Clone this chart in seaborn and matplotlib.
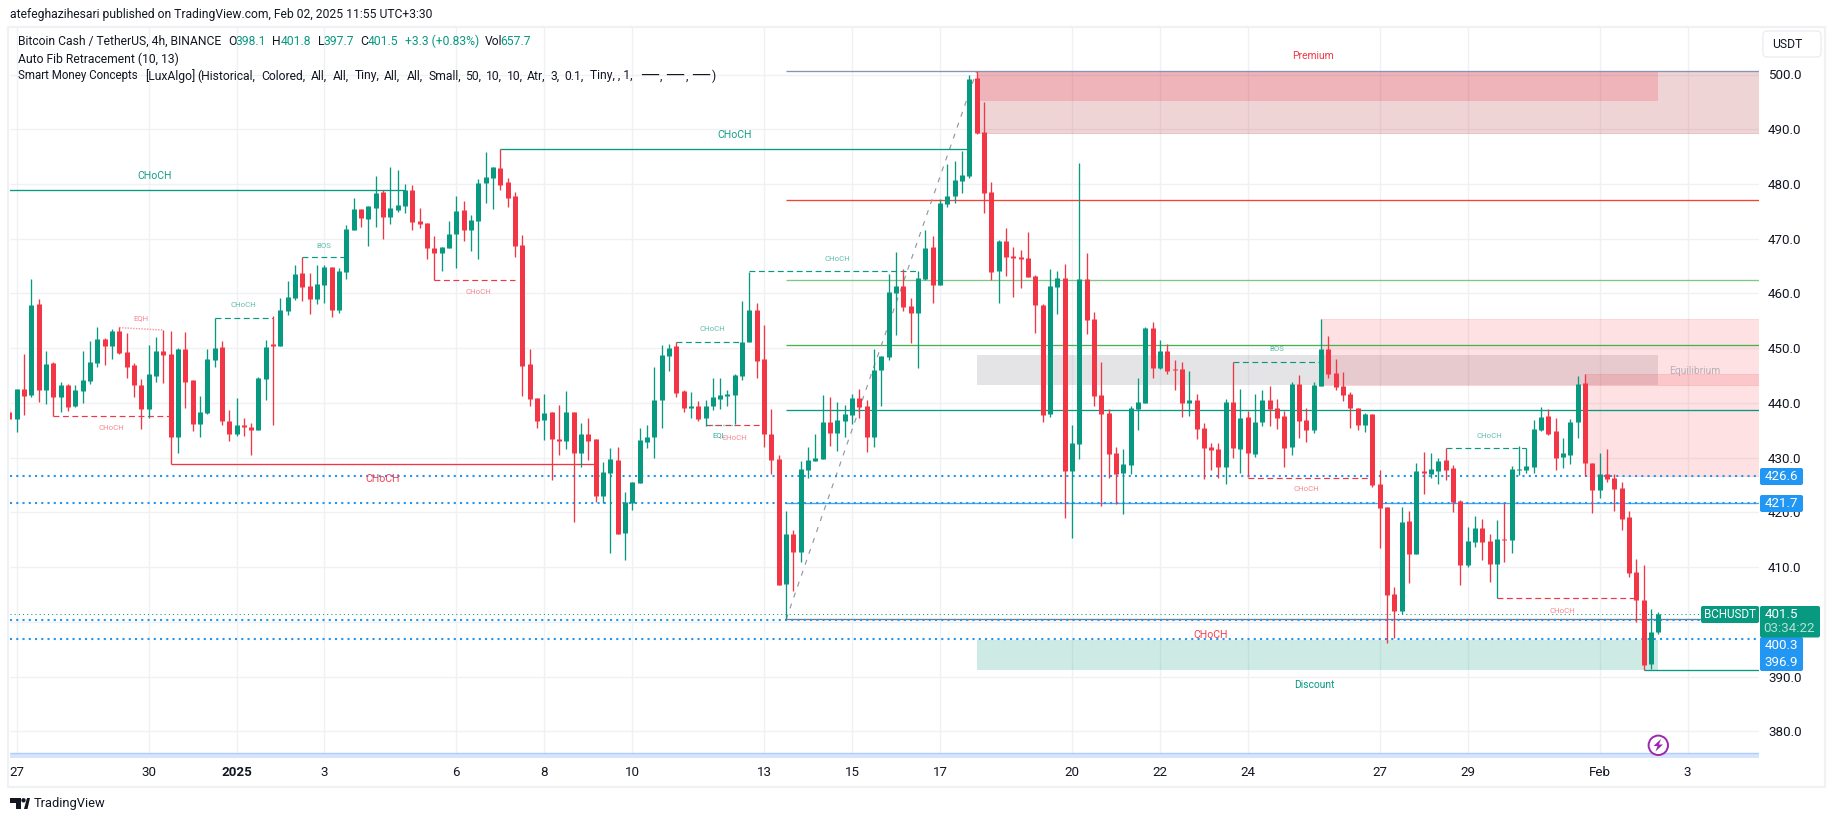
import matplotlib
matplotlib.use('Agg')
import numpy as np
import pandas as pd
import seaborn as sns
import matplotlib.pyplot as plt
from matplotlib.patches import Rectangle, FancyBboxPatch, Polygon, Circle
from matplotlib.transforms import IdentityTransform

# 4h candles, first one is the sliver cut off at the left edge
opens = [438.4,
    437.1, 442.5, 441.4, 458.1, 442.4, 447.3, 441.1, 443.3, 439.5, 442.2,
    444.0, 447.3, 451.7, 450.4, 453.2, 449.3, 446.9, 443.3, 438.9, 444.9,
    449.5, 448.9, 433.8, 449.9, 444.2, 436.2, 438.2, 447.9, 450.2, 436.7,
    434.3, 436.0, 435.6, 435.1, 444.4, 450.8, 450.4, 456.8, 459.2, 463.7,
    461.4, 459.0, 461.6, 464.9, 457.0, 464.0, 471.6, 475.4, 473.6, 475.6,
    478.5, 474.0, 475.3, 476.0, 478.9, 473.2, 472.9, 468.3, 467.4, 468.3,
    470.9, 475.2, 471.6, 473.2, 480.2, 481.1, 482.9, 480.4, 477.8, 468.9,
    447.1, 440.9, 436.9, 438.3, 433.4, 433.0, 438.3, 430.9, 434.3, 433.4,
    423.0, 427.2, 429.6, 416.2, 421.7, 425.4, 432.9, 433.8, 440.5, 448.6,
    450.4, 442.2, 439.1, 439.4, 437.3, 439.4, 440.7, 441.3, 441.5, 444.9,
    451.1, 457.0, 448.0, 434.3, 429.8, 406.9, 416.0, 412.8, 427.8, 429.4,
    429.8, 436.5, 434.5, 436.7, 437.8, 440.9, 439.4, 433.8, 446.0, 448.4,
    460.1, 461.4, 457.7, 456.4, 462.6, 468.5, 461.6, 476.4, 477.8, 480.6,
    481.5, 499.4, 489.5, 478.5, 464.1, 469.6, 466.8, 466.7, 466.5, 463.2,
    457.9, 438.0, 461.2, 462.8, 427.6, 432.5, 462.7, 455.3, 441.5, 438.2,
    430.9, 427.2, 428.7, 438.9, 440.0, 453.7, 446.4, 449.5, 446.2, 446.2,
    440.0, 440.5, 435.4, 432.0, 431.6, 428.3, 440.2, 431.6, 437.4, 430.7,
    436.5, 440.5, 439.1, 437.6, 432.0, 443.5, 436.9, 435.1, 443.1, 449.9,
    445.5, 443.1, 441.6, 439.1, 436.0, 438.0, 425.2, 421.0, 405.1, 402.0,
    418.4, 412.4, 427.6, 427.0, 427.6, 429.6, 428.1, 422.1, 410.4, 414.6,
    417.1, 414.8, 410.6, 415.1, 415.0, 427.8, 427.8, 428.3, 435.1, 437.6,
    434.9, 430.1, 430.5, 436.5, 443.6, 429.0, 424.1, 427.0, 426.3, 424.5,
    419.2, 409.1, 404.0, 392.3, 398.1]
highs = [439.0,
    442.5, 448.9, 462.6, 459.0, 449.5, 447.5, 443.8, 443.5, 443.3, 449.5,
    451.3, 453.9, 451.9, 453.5, 453.9, 452.8, 447.3, 444.4, 450.6, 452.0,
    453.3, 453.2, 450.0, 453.0, 444.2, 441.3, 449.9, 455.5, 451.3, 438.7,
    440.9, 437.3, 436.3, 444.7, 451.5, 455.9, 459.2, 462.3, 465.2, 466.6,
    463.7, 465.2, 465.2, 464.9, 464.6, 472.5, 477.4, 475.4, 476.0, 481.4,
    478.9, 483.1, 482.5, 480.0, 479.8, 475.6, 472.9, 470.5, 468.5, 473.2,
    477.8, 476.9, 474.3, 480.9, 485.8, 483.1, 486.4, 481.1, 478.5, 470.7,
    449.9, 440.9, 441.6, 438.3, 439.6, 442.2, 438.3, 436.3, 437.3, 433.4,
    429.2, 431.8, 431.9, 423.7, 425.6, 435.4, 436.0, 446.6, 450.6, 450.8,
    451.1, 442.4, 442.0, 440.4, 440.5, 444.6, 444.6, 442.4, 445.3, 458.6,
    464.0, 458.3, 454.2, 438.9, 430.5, 420.3, 416.8, 429.4, 432.0, 434.3,
    441.5, 441.1, 440.2, 439.6, 441.6, 442.6, 440.5, 449.9, 448.6, 463.6,
    467.6, 464.5, 459.2, 464.1, 471.6, 470.5, 477.3, 483.7, 484.2, 486.0,
    499.9, 500.6, 495.0, 480.4, 469.7, 472.0, 468.5, 468.0, 471.2, 463.3,
    458.1, 464.5, 464.1, 465.4, 436.0, 483.8, 467.4, 456.6, 447.5, 438.9,
    432.0, 431.6, 439.4, 444.6, 453.9, 454.8, 451.5, 450.8, 447.8, 447.5,
    445.8, 441.6, 436.3, 432.7, 432.7, 440.7, 447.4, 442.6, 438.5, 441.6,
    442.4, 443.1, 440.7, 438.5, 443.8, 445.1, 439.1, 443.8, 455.4, 452.2,
    448.0, 445.7, 442.0, 439.1, 438.2, 438.0, 427.8, 421.0, 406.4, 421.0,
    420.3, 429.0, 431.0, 430.9, 430.0, 431.8, 428.7, 422.3, 417.3, 419.3,
    418.8, 416.0, 418.6, 421.7, 428.5, 432.1, 431.7, 436.9, 439.3, 438.9,
    437.3, 433.6, 437.0, 444.9, 445.3, 429.0, 430.9, 431.6, 427.0, 425.6,
    420.3, 411.5, 410.4, 402.3, 401.8]
lows = [437.0,
    434.7, 437.8, 441.0, 440.2, 439.8, 437.6, 438.3, 438.5, 439.3, 440.0,
    443.5, 446.6, 446.9, 448.0, 449.0, 444.6, 441.1, 435.2, 437.3, 443.8,
    443.6, 428.8, 430.9, 439.1, 434.9, 433.8, 438.0, 446.6, 436.0, 433.0,
    434.0, 434.0, 430.5, 435.0, 440.5, 436.0, 450.4, 456.1, 458.8, 458.6,
    456.3, 458.0, 458.2, 455.7, 456.4, 462.7, 471.6, 472.1, 468.7, 472.1,
    469.9, 472.7, 474.9, 474.7, 471.6, 472.0, 466.3, 462.4, 464.1, 468.3,
    464.6, 469.6, 467.7, 466.3, 476.5, 475.4, 478.9, 475.8, 466.7, 441.3,
    439.4, 435.4, 433.2, 426.0, 430.5, 431.6, 418.2, 428.3, 429.6, 421.9,
    421.7, 412.6, 416.0, 411.3, 420.4, 425.4, 431.8, 429.9, 435.4, 445.8,
    441.1, 438.4, 437.3, 436.7, 435.8, 438.7, 438.9, 439.4, 436.2, 444.2,
    451.1, 444.6, 432.0, 427.0, 406.7, 400.5, 405.6, 411.0, 426.3, 429.4,
    429.8, 432.1, 431.2, 433.8, 436.2, 437.3, 431.0, 432.0, 439.4, 447.9,
    452.4, 456.8, 451.0, 446.4, 462.5, 458.3, 461.6, 475.8, 476.5, 478.4,
    481.1, 489.1, 474.7, 462.5, 458.3, 463.2, 459.4, 461.0, 463.0, 452.8,
    436.5, 437.4, 456.2, 419.0, 415.3, 429.8, 452.6, 439.4, 421.2, 426.3,
    421.5, 419.7, 427.0, 435.1, 440.0, 444.6, 446.2, 445.3, 442.4, 437.4,
    437.6, 433.4, 426.1, 427.8, 426.3, 425.2, 429.9, 427.2, 426.5, 430.1,
    435.8, 435.8, 435.2, 428.3, 430.5, 433.6, 432.9, 434.5, 443.1, 444.6,
    442.4, 440.4, 435.4, 435.1, 434.7, 424.7, 413.5, 396.2, 397.1, 401.4,
    407.1, 412.4, 423.4, 426.3, 425.2, 425.9, 420.1, 406.8, 410.0, 413.7,
    411.3, 407.3, 404.3, 411.0, 412.6, 426.8, 427.2, 427.2, 434.9, 434.1,
    427.8, 428.1, 428.9, 433.6, 426.6, 419.9, 422.6, 425.6, 420.3, 416.8,
    408.1, 400.0, 391.2, 391.4, 397.7]
closes = [437.0,
    442.5, 441.3, 457.9, 442.4, 447.1, 441.1, 443.3, 439.3, 442.4, 444.2,
    447.5, 451.7, 450.4, 453.2, 449.1, 446.6, 443.3, 438.9, 445.3, 449.5,
    448.8, 433.8, 449.9, 443.8, 436.2, 438.4, 448.0, 450.0, 436.7, 434.3,
    436.0, 435.6, 435.1, 444.6, 450.2, 450.4, 457.0, 459.4, 463.6, 461.2,
    459.0, 461.7, 464.9, 457.0, 464.1, 471.8, 475.4, 473.8, 476.0, 478.3,
    474.0, 475.6, 476.2, 478.9, 473.0, 472.7, 468.3, 467.4, 468.5, 470.9,
    475.0, 471.6, 473.4, 480.2, 481.3, 483.1, 479.8, 477.4, 468.7, 446.7,
    440.7, 436.7, 438.2, 433.4, 433.0, 438.3, 430.9, 434.3, 433.0, 423.0,
    427.4, 429.8, 416.0, 421.9, 425.6, 433.2, 433.8, 440.5, 448.8, 450.0,
    441.8, 439.1, 439.4, 437.0, 439.4, 441.1, 441.5, 441.6, 445.1, 451.1,
    457.0, 447.7, 434.3, 429.6, 406.7, 416.0, 412.8, 427.9, 429.6, 429.9,
    436.5, 434.5, 436.9, 438.0, 440.9, 439.3, 433.8, 446.0, 448.6, 460.3,
    461.4, 457.5, 456.4, 462.8, 468.3, 461.6, 476.5, 477.8, 480.7, 481.7,
    499.2, 489.3, 478.4, 463.9, 469.6, 466.7, 466.5, 466.3, 463.0, 457.9,
    437.8, 461.4, 462.8, 427.6, 432.7, 462.7, 455.2, 441.3, 438.0, 430.7,
    427.0, 428.9, 439.1, 440.2, 453.7, 446.4, 449.5, 445.8, 446.0, 440.0,
    440.5, 435.2, 431.8, 431.4, 428.3, 440.2, 431.8, 437.3, 430.9, 436.5,
    440.5, 438.9, 437.3, 431.8, 443.5, 436.7, 435.1, 443.3, 449.9, 445.3,
    442.9, 441.5, 439.1, 436.0, 438.0, 425.0, 420.8, 404.9, 402.0, 418.2,
    412.4, 427.6, 427.2, 427.9, 429.4, 427.8, 421.9, 410.4, 414.8, 417.1,
    414.6, 410.6, 415.1, 414.9, 427.9, 427.9, 428.5, 435.2, 437.4, 434.3,
    429.9, 430.9, 436.5, 443.5, 429.0, 424.1, 427.0, 426.1, 424.3, 418.8,
    408.9, 403.9, 392.1, 398.1, 401.5]

price_ticks = [380, 390, 400, 410, 420, 430, 440, 450, 460, 470, 480, 490, 500]
hidden_price_ticks = [400]
date_ticks = [-5, -2, 0, 2, 5, 7, 9, 12, 14, 16, 19, 21, 23, 26, 28, 31, 33]
date_labels = ['27', '30', '2025', '3', '6', '8', '10', '13', '15', '17', '20',
               '22', '24', '27', '29', 'Feb', '3']

# auto fib levels, drawn from bar 105 to the right edge
fib_levels = [500.6, 477.0, 462.4, 450.5, 438.65, 421.7, 400.45]
fib_colors = ['#8a93b5', '#f44336', '#81c784', '#4caf50', '#089981', '#42a5f5', '#787b86']

alert_levels = [426.6, 421.7, 400.3, 396.85]
last_price = 401.4

# structure breaks: start bar, end bar, price (end None = right edge)
solid_green = [(-2, 53, 478.85), (66, 130, 486.3), (222, None, 391.2)]
solid_red = [(21, 79, 428.8)]
dashed_green = [(39, 45, 466.6), (27, 35, 455.45), (90, 99, 451.05), (100, 123, 464.04),
                (166, 178, 447.4), (195, 206, 431.7)]
dashed_red = [(57, 68, 462.4), (5, 21, 437.55), (94, 102, 435.9), (168, 185, 426.3),
              (202, 221, 404.3)]

zone_names = ['premium', 'premium_ob', 'equilibrium', 'discount', 'supply_a', 'supply_b']
zone_start = [131, 131, 131, 131, 178, 214]
zone_end = [None, 224, 224, 224, None, None]
zone_top = [500.6, 500.6, 448.75, 396.7, 455.3, 445.3]
zone_bottom = [489.3, 495.2, 443.3, 391.2, 443.3, 426.6]
zone_colors = ['#b22833', '#f23645', '#787b86', '#089981', '#f23645', '#f23645']
zone_alpha = [0.2, 0.2, 0.2, 0.2, 0.15, 0.15]
zone_edge = [0.7, 0, 0, 0, 0.7, 0.7]

GREEN = '#089981'
RED = '#f23645'
BLUE = '#2196f3'
TEXT = '#131722'
GRID = '#f0f1f4'

W, H = 1835, 821
L, R, T, B = 9.5, 1759, 27, 757.7
TOP_PRICE = 500 + (74.5 - T) / 5.473
BOT_PRICE = 500 - (B - 74.5) / 5.473


def bar_day(i):
    return -5 + i / 6


sns.set_theme(style='white', rc={'axes.edgecolor': 'white', 'lines.solid_capstyle': 'butt'})
plt.rcParams['font.family'] = ['Roboto', 'DejaVu Sans']

fig = plt.figure(figsize=(W / 100, H / 100), dpi=100, facecolor='white')
ax = fig.add_axes([L / W, 1 - B / H, (R - L) / W, (B - T) / H])
x_left = (L - 236.5) / 43.97
x_right = (R - 236.5) / 43.97

df = pd.DataFrame({'bar': np.arange(-1, len(opens) - 1), 'open': opens, 'high': highs,
                   'low': lows, 'close': closes})
df['day'] = bar_day(df['bar'])
df['side'] = np.where(df['close'] >= df['open'], 'up', 'down')
wicks = df.melt(id_vars=['bar', 'day', 'side'], value_vars=['high', 'low'], value_name='price')
bodies = df.melt(id_vars=['bar', 'day', 'side'], value_vars=['open', 'close'], value_name='price')

ax.set_xlim(x_left, x_right)
ax.set_ylim(BOT_PRICE, TOP_PRICE)
ax.set_xticks(date_ticks)
ax.set_xticklabels(date_labels)
ax.set_yticks(price_ticks)
ax.set_yticklabels([f'{p:.1f}' for p in price_ticks])
ax.yaxis.tick_right()
ax.tick_params(axis='y', length=0, pad=6.5, labelsize=9.6, labelcolor=TEXT)
ax.tick_params(axis='x', length=0, pad=6, labelsize=9.6, labelcolor=TEXT)
ax.get_xticklabels()[2].set_fontweight('bold')
ax.grid(True, color=GRID, linewidth=1.0)
ax.set_axisbelow(True)
for s in ax.spines.values():
    s.set_visible(False)
# the 400.0 tick label sits under the price tags
ax.get_yticklabels()[price_ticks.index(hidden_price_ticks[0])].set_visible(False)

ax.axhspan(BOT_PRICE, 376.1, color='#d6e4fd', lw=0, zorder=1)
ax.axhline(376.1, color='#b2cdfb', lw=1.0, zorder=1.1)

for n in range(len(zone_names)):
    x0 = bar_day(zone_start[n])
    x1 = x_right if zone_end[n] is None else bar_day(zone_end[n])
    ax.add_patch(Rectangle((x0, zone_bottom[n]), x1 - x0, zone_top[n] - zone_bottom[n],
                           facecolor=zone_colors[n], edgecolor=zone_colors[n], alpha=zone_alpha[n],
                           lw=zone_edge[n], zorder=1.5))

for level, col in zip(fib_levels, fib_colors):
    ax.plot([bar_day(105), x_right], [level, level], color=col, lw=0.95, zorder=2)
ax.plot([bar_day(105), bar_day(131)], [fib_levels[-1], fib_levels[0]], color='#9598a1',
        lw=0.85, dashes=(4.3, 5.5), zorder=2)

for level in alert_levels:
    ax.axhline(level, color=BLUE, lw=1.5, dashes=(1, 2), zorder=2.2)
ax.axhline(last_price, color=GREEN, lw=0.75, dashes=(1, 3), zorder=2.2)

for i0, i1, p in solid_green:
    ax.plot([bar_day(i0), x_right if i1 is None else bar_day(i1)], [p, p], color=GREEN, lw=0.95, zorder=2.5)
for i0, i1, p in solid_red:
    ax.plot([bar_day(i0), bar_day(i1)], [p, p], color=RED, lw=0.95, zorder=2.5)
for i0, i1, p in dashed_green:
    ax.plot([bar_day(i0), bar_day(i1)], [p, p], color=GREEN, lw=0.85, dashes=(5, 3), zorder=2.5)
for i0, i1, p in dashed_red:
    ax.plot([bar_day(i0), bar_day(i1)], [p, p], color=RED, lw=0.85, dashes=(5, 3), zorder=2.5)
ax.plot([bar_day(14), bar_day(20)], [453.75, 453.3], color=RED, alpha=0.55, lw=1.0, dashes=(1, 1), zorder=2.5)
ax.plot([bar_day(94), bar_day(98)], [436.0, 436.0], color=GREEN, alpha=0.55, lw=1.0, dashes=(1, 1), zorder=2.5)

# candles: wick and body as one thin and one thick line per bar
palette = {'up': GREEN, 'down': RED}
sns.lineplot(data=wicks, x='day', y='price', units='bar', estimator=None, hue='side',
             palette=palette, linewidth=0.95, legend=False, ax=ax, zorder=3, solid_capstyle='butt')
sns.lineplot(data=bodies, x='day', y='price', units='bar', estimator=None, hue='side',
             palette=palette, linewidth=3.6, legend=False, ax=ax, zorder=3.1, solid_capstyle='butt')
ax.set_xlabel('')
ax.set_ylabel('')


def ptext(x, y, s, color=TEXT, size=8.7, ha='left', alpha=1.0, **kw):
    # text placed by its pixel position on the page
    return fig.text(x / W, 1 - y / H, s, color=color, fontsize=size, ha=ha, va='center', alpha=alpha, **kw)


def pbox(x0, y0, x1, y1, color, edge='none', r=2):
    fig.add_artist(FancyBboxPatch((x0 + r, H - y1 + r), x1 - x0 - 2 * r, y1 - y0 - 2 * r,
                                  boxstyle=f'round,pad={r},rounding_size={r}', facecolor=color,
                                  edgecolor=edge, lw=1.2, transform=IdentityTransform(), zorder=6))


small_labels = [
    (155, 175.7, 'CHoCH', GREEN, 7.6, 0.95), (734.4, 134.7, 'CHoCH', GREEN, 7.6, 0.95),
    (382.8, 479, 'CHoCH', RED, 7.6, 0.95), (1211, 634.7, 'CHoCH', RED, 7.6, 0.95),
    (323.5, 245.7, 'BOS', GREEN, 5.6, 0.65), (478.4, 291.7, 'CHoCH', RED, 5.6, 0.6),
    (111.5, 428.3, 'CHoCH', RED, 5.6, 0.6), (141, 317.7, 'EQH', RED, 5.6, 0.6),
    (243, 305.3, 'CHoCH', GREEN, 5.6, 0.65), (712.3, 329.3, 'CHoCH', GREEN, 5.6, 0.65),
    (837.2, 259.3, 'CHoCH', GREEN, 5.6, 0.65), (719, 434.7, 'EQL', GREEN, 5.6, 0.8),
    (734.4, 437.7, 'CHoCH', RED, 5.6, 0.6), (1277, 349.3, 'BOS', GREEN, 5.6, 0.65),
    (1306.5, 489.3, 'CHoCH', RED, 5.6, 0.6), (1489.6, 436.3, 'CHoCH', GREEN, 5.6, 0.65),
    (1562.3, 610.7, 'CHoCH', RED, 5.6, 0.6),
    (1313.4, 55.7, 'Premium', RED, 7.4, 1.0), (1695, 370.7, 'Equilibrium', '#787b86', 7.4, 0.5),
    (1314, 684.6, 'Discount', GREEN, 7.4, 1.0),
]
for x, y, s, c, size, a in small_labels:
    ptext(x, y, s, color=c, size=size, ha='center', alpha=a, zorder=5)

# frame round the chart
fig.add_artist(Rectangle((8, H - 787), 1817, 760, facecolor='none', edgecolor='#f0f1f3', lw=1.6,
                         transform=IdentityTransform(), zorder=0.5))

ptext(10, 14.7, 'atefeghazihesari published on TradingView.com, Feb 02, 2025 11:55 UTC+3:30')
ptext(18, 41.7, 'Bitcoin Cash / TetherUS, 4h, BINANCE')
for x, s, c in [(228.5, 'O', TEXT), (235.7, '398.1', GREEN), (272.4, 'H', TEXT), (280.7, '401.8', GREEN),
                (317.5, 'L', TEXT), (323.8, '397.7', GREEN), (360.6, 'C', TEXT), (367.7, '401.5', GREEN),
                (404.5, '+3.3 (+0.83%)', GREEN), (484.4, 'Vol', TEXT), (500.2, '657.7', GREEN)]:
    ptext(x, 41.7, s, color=c)
ptext(18, 59, 'Auto Fib Retracement (10, 13)')
# indicator settings line, tokens placed one by one to keep the original spacing
ptext(18, 76, 'Smart Money Concepts', size=8.3)
for x, s in [(145.5, '[LuxAlgo]'), (197.7, '(Historical,'), (261, 'Colored,'),
             (310.8, 'All,'), (333, 'All,'), (355, 'Tiny,'), (384, 'All,'), (406.5, 'All,'), (428.6, 'Small,'),
             (465.4, '50,'), (486.4, '10,'), (507, '10,'), (527, 'Atr,'), (550.4, '3,'), (564, '0.1,'),
             (589.6, 'Tiny, , 1,')]:
    ptext(x, 76, s)
for x, end in [(640.7, ','), (666.4, ','), (692.5, ')')]:
    ptext(x, 76, '──', size=10.8)
    ptext(x + 19, 76, end)

# price tags on the right
pbox(1763, 31, 1821, 57, 'white', edge='#eef0f3', r=4)
ptext(1787, 44, 'USDT', ha='center', zorder=7)
pbox(1760, 468, 1803, 485, BLUE)
ptext(1781.5, 476.5, '426.6', color='white', size=9.6, ha='center', zorder=7)
pbox(1760, 495, 1803, 512, BLUE)
ptext(1781.5, 503.3, '421.7', color='white', size=9.6, ha='center', zorder=7)
pbox(1701, 606, 1759, 623, GREEN)
ptext(1730, 614.3, 'BCHUSDT', color='white', size=8.4, ha='center', zorder=7)
pbox(1760, 637, 1803, 671, BLUE)
ptext(1781.5, 645.7, '400.3', color='white', size=9.6, ha='center', zorder=7)
ptext(1781.5, 662.7, '396.9', color='white', size=9.6, ha='center', zorder=7)
pbox(1760, 606, 1820, 637.5, GREEN)
ptext(1781.5, 614.5, '401.5', color='white', size=9.6, ha='center', zorder=7)
ptext(1789, 628.3, '03:34:22', color='#b5e0d6', size=9.6, ha='center', zorder=7)

# lightning marker under the last candle
fig.add_artist(Circle((1658.3, H - 745.3), 9.7, facecolor='white', edgecolor='#9c27b0', lw=1.4,
                      transform=IdentityTransform(), zorder=6))
fig.add_artist(Polygon([(1661, H - 739), (1653.5, H - 746), (1657.5, H - 746), (1655.5, H - 751.5),
                        (1663, H - 744.5), (1659, H - 744.5)], closed=True, facecolor='#9c27b0',
                       edgecolor='none', transform=IdentityTransform(), zorder=7))

# TradingView logo
logo = '#131722'
fig.add_artist(Polygon([(10, H - 798), (21, H - 798), (21, H - 809), (15.5, H - 809), (15.5, H - 803), (10, H - 803)],
                       closed=True, facecolor=logo, edgecolor='none', transform=IdentityTransform()))
fig.add_artist(Circle((23.5, H - 800.3), 2.2, facecolor=logo, edgecolor='none', transform=IdentityTransform()))
fig.add_artist(Polygon([(24, H - 809), (27, H - 798), (30, H - 798), (27.5, H - 809)],
                       closed=True, facecolor=logo, edgecolor='none', transform=IdentityTransform()))
ptext(33.6, 803.5, 'TradingView', size=9.3)

fig.savefig('out.png', dpi=100, facecolor='white')
